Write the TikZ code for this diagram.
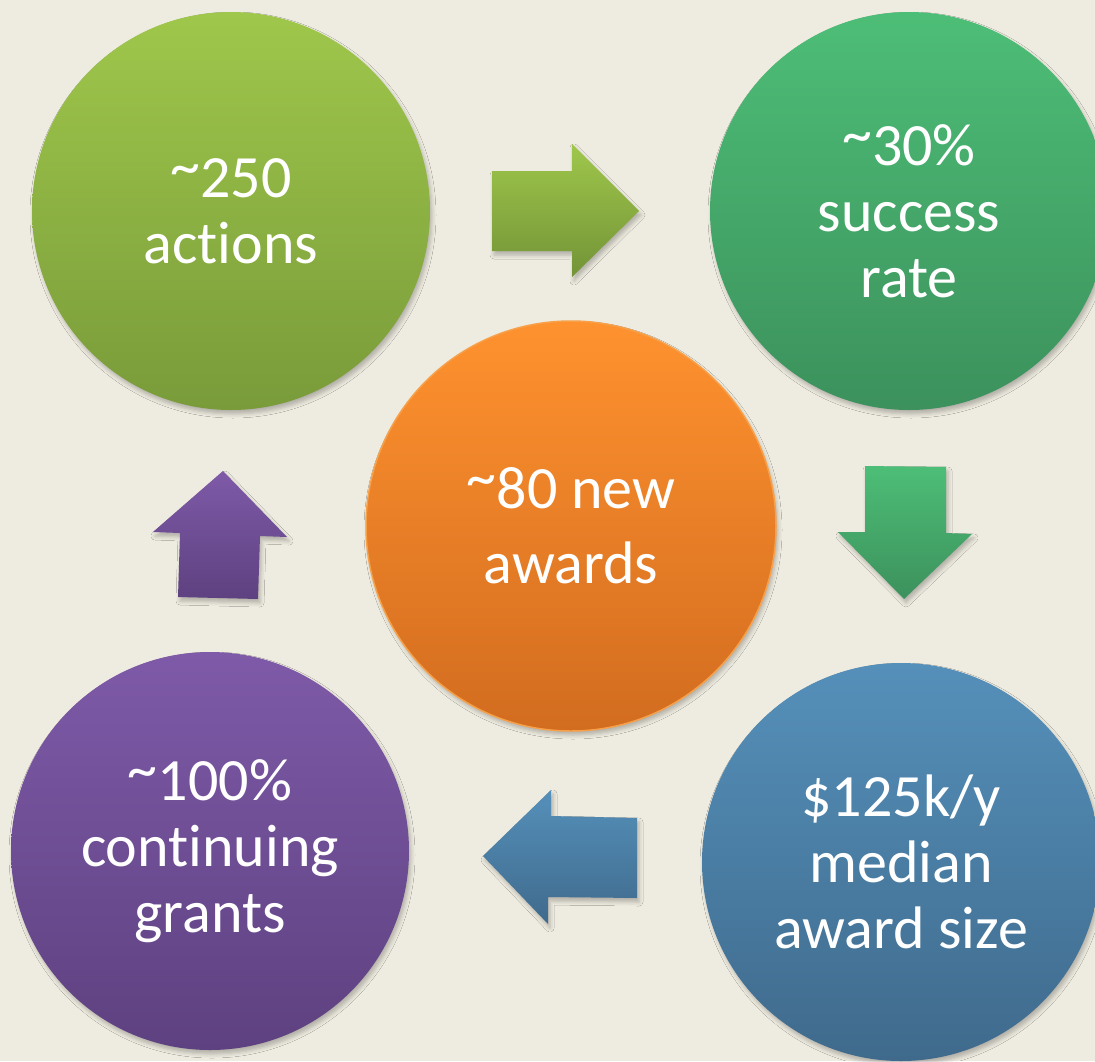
\documentclass[tikz,border=0pt]{standalone}
\usepackage{fontspec}
\setmainfont{Carlito}[Ligatures={NoCommon,NoDiscretionary}]
\usetikzlibrary{shadows.blur}

\definecolor{bgcream}{HTML}{EEEBE0}
\definecolor{limetop}{HTML}{9FC74B}
\definecolor{limebot}{HTML}{799B3A}
\definecolor{greentop}{HTML}{4DBE77}
\definecolor{greenbot}{HTML}{3C915C}
\definecolor{orangetop}{HTML}{FF922F}
\definecolor{orangebot}{HTML}{D26C1F}
\definecolor{orangerim}{HTML}{F7A04A}
\definecolor{bluetop}{HTML}{5590BA}
\definecolor{bluebot}{HTML}{3F6A8C}
\definecolor{purpletop}{HTML}{7E5AA8}
\definecolor{purplebot}{HTML}{5E4180}

\newcommand{\tld}{\raisebox{0.18em}{\textasciitilde}}

\tikzset{
  softshadow/.style={blur shadow={shadow xshift=2pt, shadow yshift=-4pt,
      shadow blur radius=4pt, shadow opacity=25}},
  bubble/.style={circle, inner sep=0pt, minimum size=398pt, text=white,
      align=center, font=\fontsize{60}{66}\selectfont, softshadow},
  blockarrow/.style={softshadow}
}

\begin{document}
\begin{tikzpicture}[x=1pt,y=-1pt]
\fill [bgcream] (0,0) rectangle (1095,1061);
\useasboundingbox (0,0) rectangle (1095,1061);
% circles
\node [bubble, top color=limetop, bottom color=limebot] (acts) at (231,211) {\tld250\\actions};
\node [bubble, top color=greentop, bottom color=greenbot] (rate) at (909,211) {\tld30\%\\success\\rate};
\node [bubble, top color=bluetop, bottom color=bluebot] (size) at (901,862) {\$125k/y\\median\\award size};
\node [bubble, top color=purpletop, bottom color=purplebot] (grants) at (210,851) {\tld100\%\\continuing\\grants};
\node [bubble, minimum size=410pt, top color=orangetop, bottom color=orangebot, draw=orangerim, line width=1.5pt,
  font=\fontsize{60}{75}\selectfont] (awards) at (571,526) {\tld80 new\\awards};
% block arrows
\shade [blockarrow, top color=limetop, bottom color=limebot!95!black] (492,171) -- (572,171) -- (572,144) -- (639,211) -- (572,277) -- (572,251) -- (492,251) -- cycle;
\shade [blockarrow, top color=greentop, bottom color=greenbot] (865,466) -- (946,467) -- (946,533) -- (972,534) -- (904,599) -- (838,532) -- (865,532) -- cycle;
\shade [blockarrow, top color=bluetop, bottom color=bluebot] (483,856) -- (551,790) -- (551,816) -- (637,818) -- (637,898) -- (548,897) -- (548,924) -- cycle;
\shade [blockarrow, top color=purpletop, bottom color=purplebot] (223,471) -- (287,537) -- (260,536) -- (258,599) -- (178,597) -- (180,533) -- (153,532) -- cycle;
\end{tikzpicture}
\end{document}
